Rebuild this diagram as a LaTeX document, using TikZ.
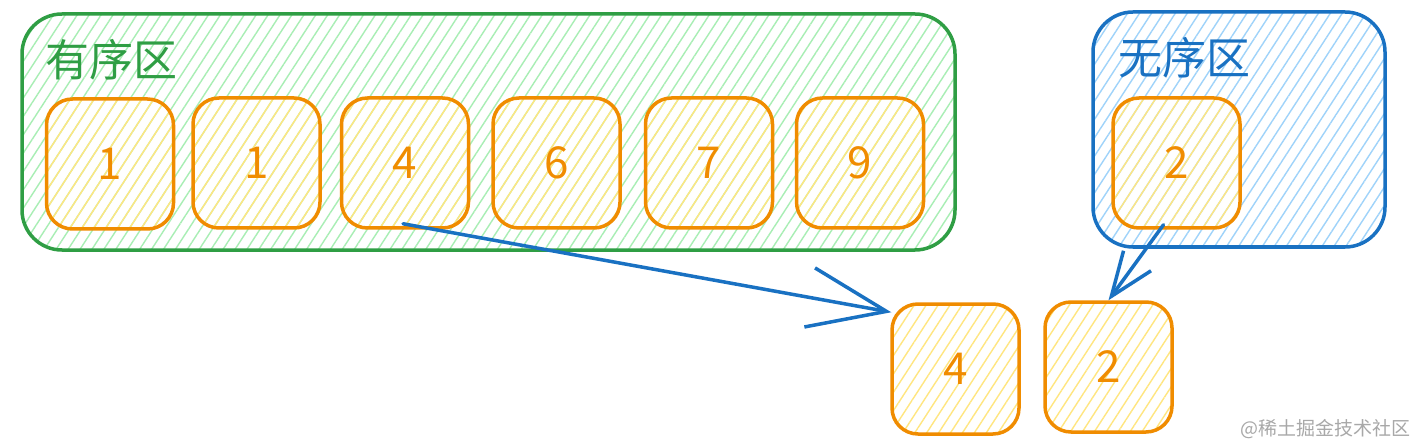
\documentclass[tikz,border=0pt]{standalone}
\usepackage{fontspec}
\setmainfont{Noto Sans CJK SC}
\usetikzlibrary{patterns.meta,arrows.meta,calc}
\definecolor{gstroke}{HTML}{2F9E44}
\definecolor{ghatch}{HTML}{A8EEB4}
\definecolor{bstroke}{HTML}{1971C2}
\definecolor{bhatch}{HTML}{9FD3FA}
\definecolor{ostroke}{HTML}{F08C00}
\definecolor{ohatch}{HTML}{FFE680}
\definecolor{wm}{HTML}{A8A8A8}
\begin{document}
\begin{tikzpicture}[x=1pt,y=-1pt,
 hatch/.style={pattern={Lines[angle=57,distance=10pt,line width=1.4pt]}, pattern color=#1},
 zone/.style={draw=#1, line width=3.5pt, rounded corners=40pt, inner sep=0pt},
 cell/.style={draw=ostroke, line width=3.5pt, rounded corners=26pt, hatch=ohatch,
   minimum width=127pt, minimum height=130pt, inner sep=0pt, text=ostroke,
   font=\fontsize{44}{44}\selectfont},
 zonelabel/.style={font=\fontsize{44}{44}\selectfont, inner sep=0pt, text=#1},
 link/.style={draw=bstroke, line width=3.5pt, line cap=round, line join=round}
]
\useasboundingbox (0,0) rectangle (1412,446);
\fill[white] (0,0) rectangle (1412,446);

% zones
\node[zone=gstroke, hatch=ghatch, minimum width=933pt, minimum height=236pt] (ordered) at (488.5,132) {};
\node[zone=bstroke, hatch=bhatch, minimum width=292pt, minimum height=235pt] (unordered) at (1239,129.5) {};
\node[zonelabel=gstroke] (lord) at (111,60) {有序区};
\node[zonelabel=bstroke] (luno) at (1184,58) {无序区};

% cells
\node[cell] (b1) at (110,164) {1};
\node[cell] (b2) at (256.5,163) {1};
\node[cell] (b3) at (405,163) {4};
\node[cell] (b4) at (556.5,163) {6};
\node[cell] (b5) at (709,163) {7};
\node[cell] (b6) at (860,163) {9};
\node[cell] (u2) at (1176.5,163) {2};
\node[cell] (r4) at (955.5,369) {4};
\node[cell] (r2) at (1108.5,367) {2};

% connectors
\draw[link, -{Straight Barb[length=78pt,width=60pt]}] ($(b3.south)+(-2,-6)$) -- ($(r4.north west)+(1,10)$);
\draw[link, -{Straight Barb[length=44pt,width=34pt]}] ($(u2.south)+(-13,-5)$) -- (r2.north);

% watermark
\node[font=\fontsize{19}{19}\selectfont, text=wm, inner sep=0pt] (wmk) at (1325,429) {@稀土掘金技术社区};
\end{tikzpicture}
\end{document}
